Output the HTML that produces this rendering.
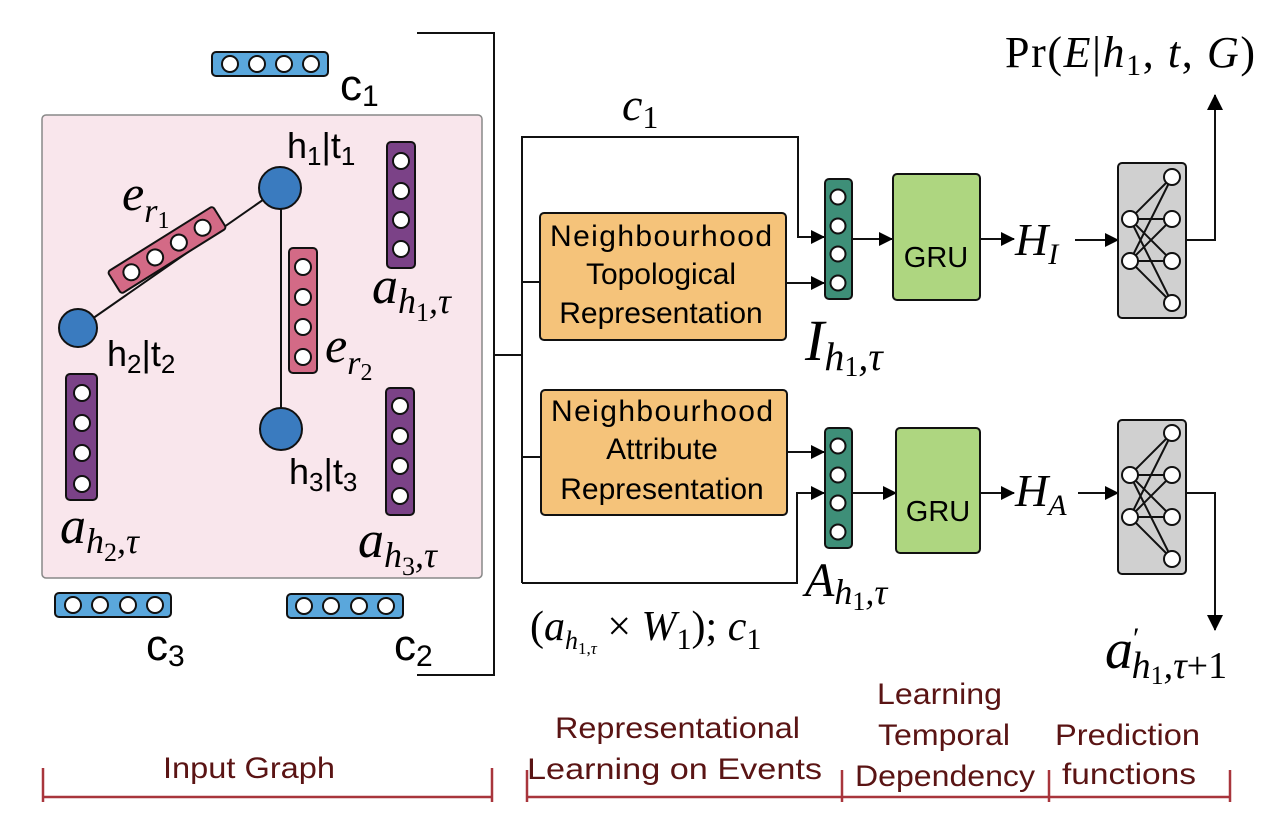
<!DOCTYPE html>
<html><head><meta charset="utf-8"><style>
html,body{margin:0;padding:0;background:#fff;}
svg{display:block;}
.s{font-family:"Liberation Sans",sans-serif;}
.m{font-family:"Liberation Serif",serif;font-style:italic;}
.r{font-family:"Liberation Serif",serif;}
.lab{font-family:"Liberation Sans Narrow","Liberation Sans",sans-serif;fill:#5a1414;font-size:30px;}
</style></head><body>
<svg width="1286" height="818" viewBox="0 0 1286 818" xmlns="http://www.w3.org/2000/svg">
<defs>
<marker id="ah" markerWidth="14" markerHeight="14" refX="13" refY="7" orient="auto" markerUnits="userSpaceOnUse"><path d="M0,0 L14,7 L0,14 z" fill="#000"/></marker>
<marker id="ahb" markerWidth="16" markerHeight="16" refX="15" refY="8" orient="auto" markerUnits="userSpaceOnUse"><path d="M0,0 L16,8 L0,16 z" fill="#000"/></marker>
</defs>

<rect x="42" y="115" width="440" height="463" rx="4" fill="#f9e6ec" stroke="#888" stroke-width="1.5"/>

<g stroke="#111" stroke-width="2">
<rect x="212" y="52" width="116" height="24" rx="4" fill="#5aa7dc"/>
<circle cx="230" cy="64" r="8" fill="#fff"/><circle cx="257" cy="64" r="8" fill="#fff"/><circle cx="284" cy="64" r="8" fill="#fff"/><circle cx="311" cy="64" r="8" fill="#fff"/>
<rect x="55" y="593" width="116" height="24" rx="4" fill="#5aa7dc"/>
<circle cx="73" cy="605" r="8" fill="#fff"/><circle cx="100" cy="605" r="8" fill="#fff"/><circle cx="128" cy="605" r="8" fill="#fff"/><circle cx="155" cy="605" r="8" fill="#fff"/>
<rect x="287" y="594" width="116" height="24" rx="4" fill="#5aa7dc"/>
<circle cx="304" cy="606" r="8" fill="#fff"/><circle cx="331" cy="606" r="8" fill="#fff"/><circle cx="359" cy="606" r="8" fill="#fff"/><circle cx="386" cy="606" r="8" fill="#fff"/>
</g>
<text x="340" y="100" class="s" font-size="44">c<tspan font-size="30" dy="6">1</tspan></text>
<text x="146" y="660" class="s" font-size="44">c<tspan font-size="30" dy="6">3</tspan></text>
<text x="394" y="660" class="s" font-size="44">c<tspan font-size="30" dy="6">2</tspan></text>

<g stroke="#111" stroke-width="2">
<line x1="280" y1="188" x2="79" y2="328"/>
<line x1="281" y1="190" x2="281" y2="428"/>
</g>
<g transform="translate(167,250) rotate(-32)" stroke="#111" stroke-width="2">
<rect x="-62" y="-13" width="124" height="26" rx="3" fill="#d36a86"/>
<circle cx="-42" cy="0" r="8" fill="#fff"/><circle cx="-14" cy="0" r="8" fill="#fff"/><circle cx="14" cy="0" r="8" fill="#fff"/><circle cx="42" cy="0" r="8" fill="#fff"/>
</g>
<g stroke="#111" stroke-width="2">
<rect x="289" y="248" width="28" height="125" rx="4" fill="#d36a86"/>
<circle cx="303" cy="267" r="8" fill="#fff"/><circle cx="303" cy="297" r="8" fill="#fff"/><circle cx="303" cy="327" r="8" fill="#fff"/><circle cx="303" cy="357" r="8" fill="#fff"/>
<rect x="387" y="142" width="28" height="126" rx="4" fill="#7b4287"/>
<circle cx="401" cy="161" r="8" fill="#fff"/><circle cx="401" cy="191" r="8" fill="#fff"/><circle cx="401" cy="220" r="8" fill="#fff"/><circle cx="401" cy="249" r="8" fill="#fff"/>
<rect x="66" y="374" width="31" height="126" rx="4" fill="#7b4287"/>
<circle cx="82" cy="393" r="8" fill="#fff"/><circle cx="82" cy="423" r="8" fill="#fff"/><circle cx="82" cy="453" r="8" fill="#fff"/><circle cx="82" cy="484" r="8" fill="#fff"/>
<rect x="386" y="388" width="28" height="127" rx="4" fill="#7b4287"/>
<circle cx="400" cy="406" r="8" fill="#fff"/><circle cx="400" cy="436" r="8" fill="#fff"/><circle cx="400" cy="466" r="8" fill="#fff"/><circle cx="400" cy="496" r="8" fill="#fff"/>
<circle cx="280" cy="188" r="21" fill="#3a7bbf"/>
<circle cx="78" cy="328" r="19" fill="#3a7bbf"/>
<circle cx="281" cy="429" r="21" fill="#3a7bbf"/>
</g>
<text x="287" y="158" class="s" font-size="36">h<tspan font-size="26" dy="7">1</tspan><tspan dy="-7">|t</tspan><tspan font-size="26" dy="7">1</tspan></text>
<text x="107" y="366" class="s" font-size="36">h<tspan font-size="26" dy="7">2</tspan><tspan dy="-7">|t</tspan><tspan font-size="26" dy="7">2</tspan></text>
<text x="289" y="484" class="s" font-size="36">h<tspan font-size="26" dy="7">3</tspan><tspan dy="-7">|t</tspan><tspan font-size="26" dy="7">3</tspan></text>
<text x="122" y="210" class="m" font-size="50">e<tspan font-size="34" dy="12">r</tspan><tspan font-style="normal" font-size="24" dy="6">1</tspan></text>
<text x="325" y="362" class="m" font-size="50">e<tspan font-size="34" dy="12">r</tspan><tspan font-style="normal" font-size="24" dy="6">2</tspan></text>
<text x="372" y="303" class="m" font-size="52">a<tspan font-size="36" dy="10">h</tspan><tspan font-style="normal" font-size="26" dy="8">1</tspan><tspan font-size="36" dy="-8">,τ</tspan></text>
<text x="60" y="543" class="m" font-size="52">a<tspan font-size="36" dy="10">h</tspan><tspan font-style="normal" font-size="26" dy="8">2</tspan><tspan font-size="36" dy="-8">,τ</tspan></text>
<text x="358" y="557" class="m" font-size="52">a<tspan font-size="36" dy="10">h</tspan><tspan font-style="normal" font-size="26" dy="8">3</tspan><tspan font-size="36" dy="-8">,τ</tspan></text>

<polyline points="417,33 494,33 494,675 417,675" fill="none" stroke="#111" stroke-width="2"/>
<line x1="494" y1="355" x2="522" y2="355" stroke="#111" stroke-width="2"/>

<g fill="none" stroke="#111" stroke-width="2">
<polyline points="522,583 522,137 798,137 798,237 824,237" marker-end="url(#ah)"/>
<line x1="522" y1="282" x2="540" y2="282"/>
<line x1="522" y1="457" x2="541" y2="457"/>
<line x1="786" y1="283" x2="824" y2="283" marker-end="url(#ah)"/>
<line x1="787" y1="452" x2="824" y2="452" marker-end="url(#ah)"/>
<polyline points="522,583 797,583 797,493 824,493" marker-end="url(#ah)"/>
</g>
<text x="622" y="120" class="m" font-size="46">c<tspan font-style="normal" font-size="32" dy="8">1</tspan></text>

<rect x="540" y="213" width="246" height="127" rx="4" fill="#f5c37a" stroke="#111" stroke-width="2"/>
<text class="s" font-size="30" text-anchor="middle"><tspan x="661" y="246" textLength="222">Neighbourhood</tspan><tspan x="661" y="284">Topological</tspan><tspan x="661" y="323">Representation</tspan></text>
<rect x="541" y="390" width="246" height="125" rx="4" fill="#f5c37a" stroke="#111" stroke-width="2"/>
<text class="s" font-size="30" text-anchor="middle"><tspan x="662" y="421" textLength="222">Neighbourhood</tspan><tspan x="662" y="459">Attribute</tspan><tspan x="662" y="499">Representation</tspan></text>

<g stroke="#111" stroke-width="2">
<rect x="825" y="179" width="27" height="120" rx="4" fill="#3e8f78"/>
<circle cx="838" cy="197" r="7.5" fill="#fff"/><circle cx="838" cy="226" r="7.5" fill="#fff"/><circle cx="838" cy="254" r="7.5" fill="#fff"/><circle cx="838" cy="283" r="7.5" fill="#fff"/>
<rect x="825" y="428" width="27" height="120" rx="4" fill="#3e8f78"/>
<circle cx="838" cy="446" r="7.5" fill="#fff"/><circle cx="838" cy="475" r="7.5" fill="#fff"/><circle cx="838" cy="503" r="7.5" fill="#fff"/><circle cx="838" cy="532" r="7.5" fill="#fff"/>
</g>
<text x="805" y="360" class="m" font-size="58">I<tspan font-size="40" dy="10">h</tspan><tspan font-style="normal" font-size="28" dy="6">1</tspan><tspan font-size="40" dy="-6">,τ</tspan></text>
<text x="805" y="596" class="m" font-size="48">A<tspan font-size="36" dy="8">h</tspan><tspan font-style="normal" font-size="26" dy="6">1</tspan><tspan font-size="36" dy="-6">,τ</tspan></text>
<text x="530" y="640" class="r" font-size="42">(<tspan font-style="italic">a</tspan><tspan font-style="italic" font-size="26" dy="9">h</tspan><tspan font-size="17" dy="5">1,</tspan><tspan font-style="italic" font-size="17">τ</tspan><tspan dy="-14"> × </tspan><tspan font-style="italic">W</tspan><tspan font-size="30" dy="9">1</tspan><tspan dy="-9">); </tspan><tspan font-style="italic">c</tspan><tspan font-size="30" dy="9">1</tspan></text>

<g fill="none" stroke="#111" stroke-width="2">
<line x1="852" y1="239" x2="892" y2="239" marker-end="url(#ah)"/>
<line x1="852" y1="493" x2="896" y2="493" marker-end="url(#ah)"/>
<line x1="980" y1="239" x2="1014" y2="239" marker-end="url(#ah)"/>
<line x1="980" y1="493" x2="1014" y2="493" marker-end="url(#ah)"/>
<line x1="1075" y1="240" x2="1118" y2="240" marker-end="url(#ah)"/>
<line x1="1078" y1="493" x2="1118" y2="493" marker-end="url(#ah)"/>
<polyline points="1186,240 1215,240 1215,95" marker-end="url(#ahb)"/>
<polyline points="1186,493 1215,493 1215,630" marker-end="url(#ahb)"/>
</g>
<rect x="893" y="174" width="87" height="126" rx="4" fill="#aed680" stroke="#111" stroke-width="2"/>
<text x="936" y="267" class="s" font-size="29" text-anchor="middle">GRU</text>
<rect x="896" y="428" width="84" height="125" rx="4" fill="#aed680" stroke="#111" stroke-width="2"/>
<text x="938" y="521" class="s" font-size="29" text-anchor="middle">GRU</text>
<text x="1015" y="255" class="m" font-size="46">H<tspan font-size="30" dy="9">I</tspan></text>
<text x="1015" y="506" class="m" font-size="46">H<tspan font-size="30" dy="9">A</tspan></text>

<g stroke="#111" stroke-width="2">
<rect x="1118" y="163" width="68" height="155" rx="4" fill="#d0d0d0"/>
<path fill="none" d="M1130,219 L1172,177 M1130,219 L1172,219 M1130,219 L1172,261 M1130,219 L1172,303 M1130,261 L1172,177 M1130,261 L1172,219 M1130,261 L1172,261 M1130,261 L1172,303"/>
<g fill="#fff"><circle cx="1130" cy="219" r="8"/><circle cx="1130" cy="261" r="8"/><circle cx="1172" cy="177" r="8"/><circle cx="1172" cy="219" r="8"/><circle cx="1172" cy="261" r="8"/><circle cx="1172" cy="303" r="8"/></g>
<rect x="1118" y="420" width="68" height="154" rx="4" fill="#d0d0d0"/>
<path fill="none" d="M1130,475 L1172,433 M1130,475 L1172,475 M1130,475 L1172,517 M1130,475 L1172,559 M1130,517 L1172,433 M1130,517 L1172,475 M1130,517 L1172,517 M1130,517 L1172,559"/>
<g fill="#fff"><circle cx="1130" cy="475" r="8"/><circle cx="1130" cy="517" r="8"/><circle cx="1172" cy="433" r="8"/><circle cx="1172" cy="475" r="8"/><circle cx="1172" cy="517" r="8"/><circle cx="1172" cy="559" r="8"/></g>
</g>
<text x="1005" y="67" class="r" font-size="44" textLength="250">Pr(<tspan font-style="italic">E</tspan>|<tspan font-style="italic">h</tspan><tspan font-size="30" dy="8">1</tspan><tspan dy="-8">, </tspan><tspan font-style="italic">t</tspan>, <tspan font-style="italic">G</tspan>)</text>
<text x="1105" y="668" class="m" font-size="56">a<tspan font-style="normal" font-size="30" dy="-20">′</tspan><tspan font-size="38" dx="-8" dy="30">h</tspan><tspan font-style="normal" font-size="26" dy="6">1</tspan><tspan font-size="38" dy="-6">,τ</tspan><tspan font-style="normal" font-size="38">+1</tspan></text>

<g stroke="#a8353c" stroke-width="2.5" fill="none">
<line x1="43" y1="797" x2="492" y2="797"/>
<line x1="43" y1="768" x2="43" y2="802"/><line x1="492" y1="768" x2="492" y2="802"/>
<line x1="527" y1="797" x2="1230" y2="797"/>
<line x1="527" y1="770" x2="527" y2="802"/><line x1="842" y1="770" x2="842" y2="802"/><line x1="1049" y1="770" x2="1049" y2="802"/><line x1="1230" y1="770" x2="1230" y2="802"/>
</g>
<text x="163" y="778" class="lab" textLength="172" lengthAdjust="spacingAndGlyphs">Input Graph</text>
<text x="555" y="738" class="lab" textLength="245" lengthAdjust="spacingAndGlyphs">Representational</text>
<text x="527" y="779" class="lab" textLength="295" lengthAdjust="spacingAndGlyphs">Learning on Events</text>
<text x="877" y="704" class="lab" textLength="125" lengthAdjust="spacingAndGlyphs">Learning</text>
<text x="878" y="745" class="lab" textLength="132" lengthAdjust="spacingAndGlyphs">Temporal</text>
<text x="855" y="786" class="lab" textLength="180" lengthAdjust="spacingAndGlyphs">Dependency</text>
<text x="1055" y="745" class="lab" textLength="145" lengthAdjust="spacingAndGlyphs">Prediction</text>
<text x="1062" y="784" class="lab" textLength="134" lengthAdjust="spacingAndGlyphs">functions</text>
</svg>
</body></html>
